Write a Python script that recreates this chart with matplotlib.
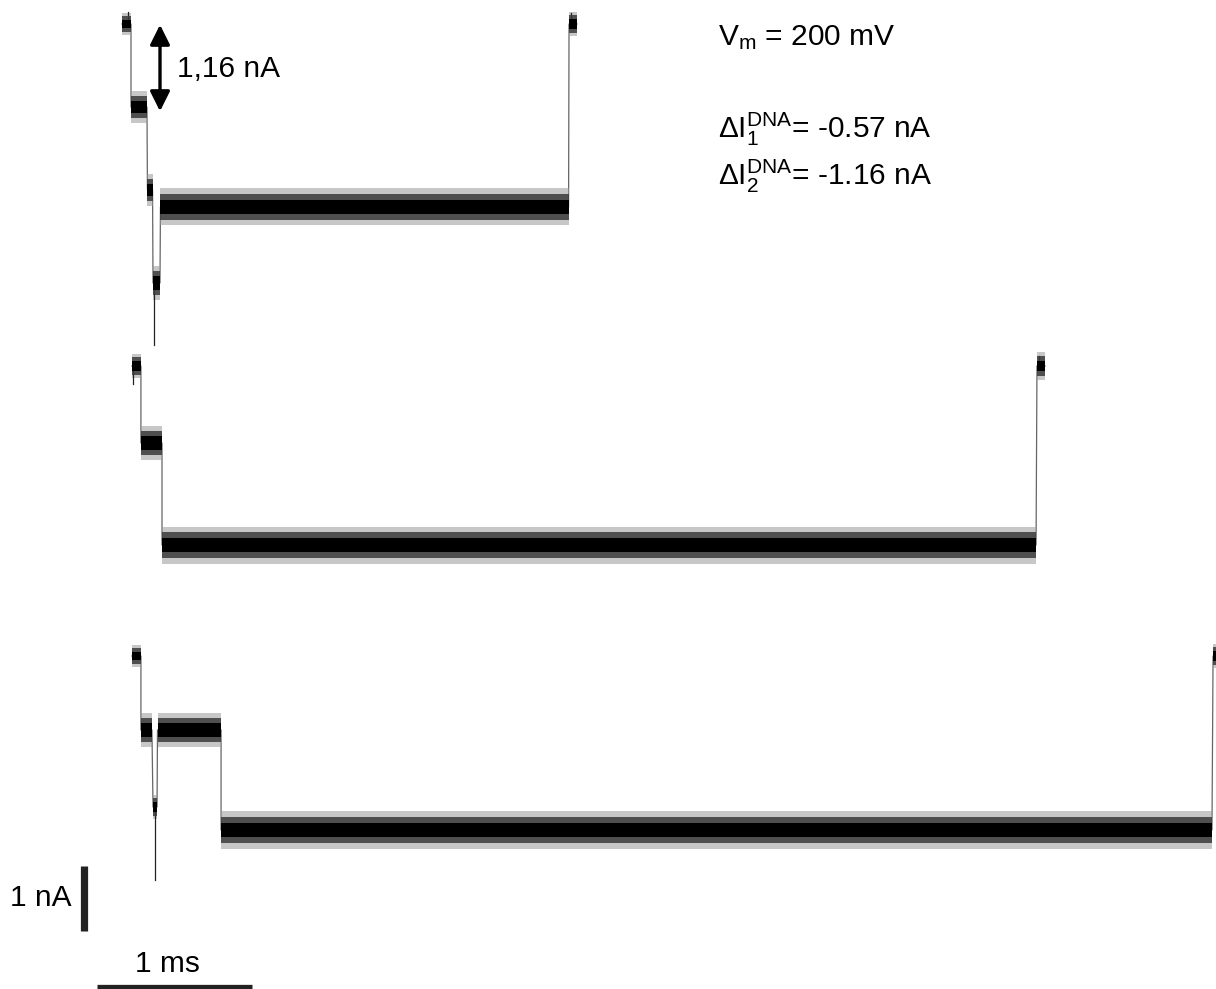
import matplotlib
matplotlib.use("Agg")
import matplotlib.pyplot as plt
from matplotlib.patches import FancyArrowPatch

plt.rcParams['font.family'] = ['Liberation Sans', 'DejaVu Sans']
plt.rcParams['mathtext.fontset'] = 'custom'
plt.rcParams['mathtext.rm'] = 'Liberation Sans'
plt.rcParams['mathtext.it'] = 'Liberation Sans'
plt.rcParams['mathtext.bf'] = 'Liberation Sans:bold'

# ---- data (time in ms, current relative to open pore in nA) ----
trace1_start = [0.013, 0.071, 0.177, 0.213, 0.261, 2.897]
trace1_end = [0.071, 0.174, 0.210, 0.258, 2.894, 2.948]
trace1_level = [0.0, -1.277, -2.554, -3.985, -2.815, 0.0]
trace1_noise = [0.09, 0.13, 0.13, 0.14, 0.15, 0.10]
trace1_spike_t = [0.052, 0.219, 2.910]
trace1_spike_i = [0.185, -4.938, 0.17]

trace2_start = [0.077, 0.135, 0.271, 5.916]
trace2_end = [0.135, 0.271, 5.910, 5.968]
trace2_level = [0.0, -1.185, -2.754, 0.0]
trace2_noise = [0.10, 0.14, 0.15, 0.11]
trace2_spike_t = [0.085, 5.930]
trace2_spike_i = [-0.28, 0.15]

trace3_start = [0.077, 0.135, 0.213, 0.242, 0.652, 7.052]
trace3_end = [0.135, 0.206, 0.239, 0.652, 7.045, 7.080]
trace3_level = [0.0, -1.138, -2.323, -1.138, -2.677, 0.0]
trace3_noise = [0.09, 0.14, 0.10, 0.14, 0.15, 0.10]
trace3_spike_t = [0.226]
trace3_spike_i = [-3.446]

trace_offset = [-0.369, -5.631, -10.092]   # open-pore baseline of each sweep

traces = [
    (trace1_start, trace1_end, trace1_level, trace1_noise, trace1_spike_t, trace1_spike_i),
    (trace2_start, trace2_end, trace2_level, trace2_noise, trace2_spike_t, trace2_spike_i),
    (trace3_start, trace3_end, trace3_level, trace3_noise, trace3_spike_t, trace3_spike_i),
]

W, H = 1216, 989
fig = plt.figure(figsize=(W / 100, H / 100), dpi=100)
ax = fig.add_axes([0, 0, 1, 1])
ax.set_xlim(-120 / 155, (W - 120) / 155)
ax.set_ylim(-H / 65, 0)
ax.axis('off')

bands = [(1.9, '#9a9a9a', 0.55), (1.35, '#3a3a3a', 0.85), (0.75, 'black', 1.0)]

for (ts, te, lv, nz, st, si), off in zip(traces, trace_offset):
    xs, ys = [], []
    for a, b, l in zip(ts, te, lv):
        xs += [a, b]
        ys += [l + off, l + off]
    ax.plot(xs, ys, color='#666666', lw=0.9, zorder=2)
    for a, b, l, n in zip(ts, te, lv, nz):
        for k, (m, c, al) in enumerate(bands):
            ax.fill_between([a, b], l + off - m * n, l + off + m * n,
                            color=c, alpha=al, lw=0, zorder=3 + k)
    for t, i in zip(st, si):
        base = lv[0]
        for a, b, l in zip(ts, te, lv):
            if a - 0.01 <= t <= b + 0.01:
                base = l
        ax.plot([t, t], [base + off, i + off], color='#222222', lw=0.9, zorder=3)

# scale bars (1 nA vertical, 1 ms horizontal)
ax.plot([-0.235, -0.235], [-13.323, -14.323], color='#222222', lw=5.2,
        solid_capstyle='butt', clip_on=False)
ax.plot([-0.148, 0.852], [-15.185, -15.185], color='#222222', lw=3.8,
        solid_capstyle='butt', clip_on=False)

def fx(px):
    return px / W

def fy(py):
    return 1 - py / H

fs = 21.5
fig.text(fx(72), fy(898), '1 nA', ha='right', va='center', fontsize=fs)
fig.text(fx(167), fy(972), '1 ms', ha='center', va='baseline', fontsize=fs)

# double arrow with amplitude
fig.add_artist(FancyArrowPatch(
    (fx(160), fy(22)), (fx(160), fy(114)), transform=fig.transFigure,
    arrowstyle='<|-|>', mutation_scale=30, lw=2.4, color='black'))
fig.text(fx(177), fy(77), '1,16 nA', ha='left', va='baseline', fontsize=fs)

fig.text(fx(718), fy(45), r'V$_{\mathrm{m}}$ = 200 mV', ha='left', va='baseline', fontsize=fs)
fig.text(fx(718), fy(138), r'$\Delta$I$_{1}^{\mathrm{DNA}}$= -0.57 nA', ha='left', va='baseline', fontsize=fs)
fig.text(fx(718), fy(185), r'$\Delta$I$_{2}^{\mathrm{DNA}}$= -1.16 nA', ha='left', va='baseline', fontsize=fs)

fig.savefig('out.png', dpi=100)
